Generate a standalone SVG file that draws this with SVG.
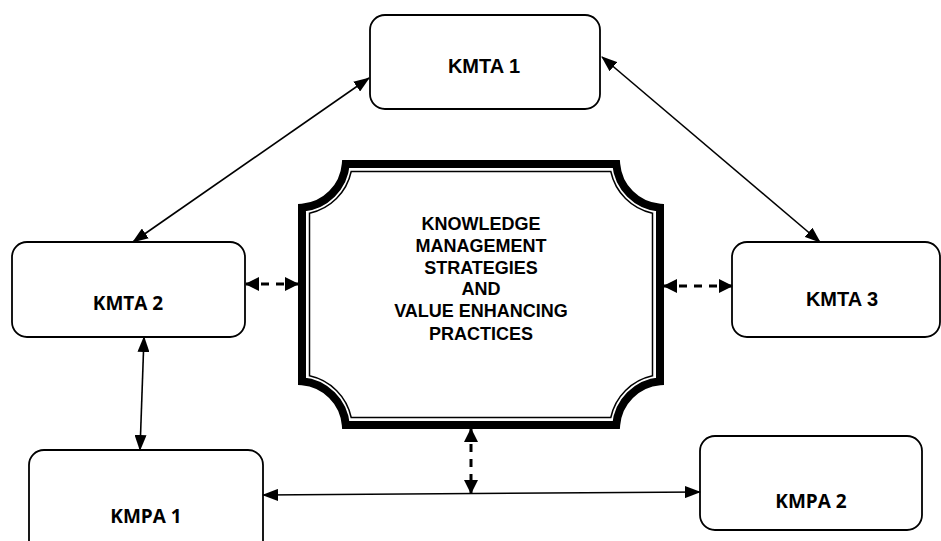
<svg xmlns="http://www.w3.org/2000/svg" width="941" height="541" viewBox="0 0 941 541">
<style>
.box{fill:#fff;stroke:#000;stroke-width:1.8}
.a{font-family:"Liberation Sans",Arial,sans-serif;font-weight:bold;font-size:20px;text-anchor:middle;fill:#000}
.c{font-family:"Open Sans","Liberation Sans",sans-serif;font-weight:bold;font-size:19px;text-anchor:middle;fill:#000}
.m{font-family:"Liberation Sans",Arial,sans-serif;font-weight:bold;font-size:18px;text-anchor:middle;fill:#000}
.ln{fill:none;stroke:#000;stroke-width:1.6;marker-start:url(#ah);marker-end:url(#ah)}
.dl{fill:none;stroke:#000;stroke-width:3;stroke-dasharray:8 7;marker-start:url(#ah2);marker-end:url(#ah2)}
</style>
<defs>
<marker id="ah" markerUnits="userSpaceOnUse" markerWidth="16" markerHeight="12" refX="15" refY="6" orient="auto-start-reverse" viewBox="0 0 16 12">
<path d="M0,0 L16,6 L0,12 z" fill="#000"/>
</marker>
<marker id="ah2" markerUnits="userSpaceOnUse" markerWidth="14" markerHeight="14" refX="13" refY="7" orient="auto-start-reverse" viewBox="0 0 14 14">
<path d="M0,0 L14,7 L0,14 z" fill="#000"/>
</marker>
</defs>
<rect width="941" height="541" fill="#fff"/>
<g id="center">
<path d="M345.8,164 L616.2,164 A48,48 0 0 0 660,207.8 L660,381.2 A48,48 0 0 0 616.2,425 L345.8,425 A48,48 0 0 0 302,381.2 L302,207.8 A48,48 0 0 0 345.8,164 Z" fill="#fff" stroke="#000" stroke-width="8"/>
<path d="M351.2,171.5 L610.8,171.5 A54.5,54.5 0 0 0 652.5,213.2 L652.5,375.8 A54.5,54.5 0 0 0 610.8,417.5 L351.2,417.5 A54.5,54.5 0 0 0 309.5,375.8 L309.5,213.2 A54.5,54.5 0 0 0 351.2,171.5 Z" fill="none" stroke="#000" stroke-width="1.5"/>
<text class="m" x="481" y="230">KNOWLEDGE</text>
<text class="m" x="481" y="252">MANAGEMENT</text>
<text class="m" x="481" y="274">STRATEGIES</text>
<text class="m" x="481" y="295">AND</text>
<text class="m" x="481" y="317">VALUE ENHANCING</text>
<text class="m" x="481" y="340">PRACTICES</text>
</g>
<g id="kmta1">
<rect class="box" x="370" y="15" width="230" height="94" rx="15"/>
<text class="a" x="484" y="73">KMTA 1</text>
</g>
<g id="kmta2">
<rect class="box" x="12" y="242" width="233" height="95" rx="15"/>
<text class="c" x="128" y="310">KMTA 2</text>
</g>
<g id="kmta3">
<rect class="box" x="732" y="242" width="208" height="95" rx="15"/>
<text class="a" x="842" y="306">KMTA 3</text>
</g>
<g id="kmpa1">
<rect class="box" x="29" y="450" width="234" height="110" rx="15"/>
<text class="c" x="146" y="523">KMPA 1</text>
</g>
<g id="kmpa2">
<rect class="box" x="700" y="436" width="222" height="94" rx="15"/>
<text class="c" x="811" y="508">KMPA 2</text>
</g>
<g id="connectors">
<line class="ln" x1="133" y1="242" x2="369" y2="78"/>
<line class="ln" x1="602" y1="57" x2="820" y2="242"/>
<line class="ln" x1="144" y1="337" x2="140" y2="450"/>
<line class="ln" x1="263" y1="495" x2="700" y2="492"/>
<line class="dl" x1="246" y1="284" x2="298" y2="284"/>
<line class="dl" x1="664" y1="286" x2="732" y2="286"/>
<line class="dl" x1="471" y1="429" x2="471" y2="493"/>
</g>
</svg>
